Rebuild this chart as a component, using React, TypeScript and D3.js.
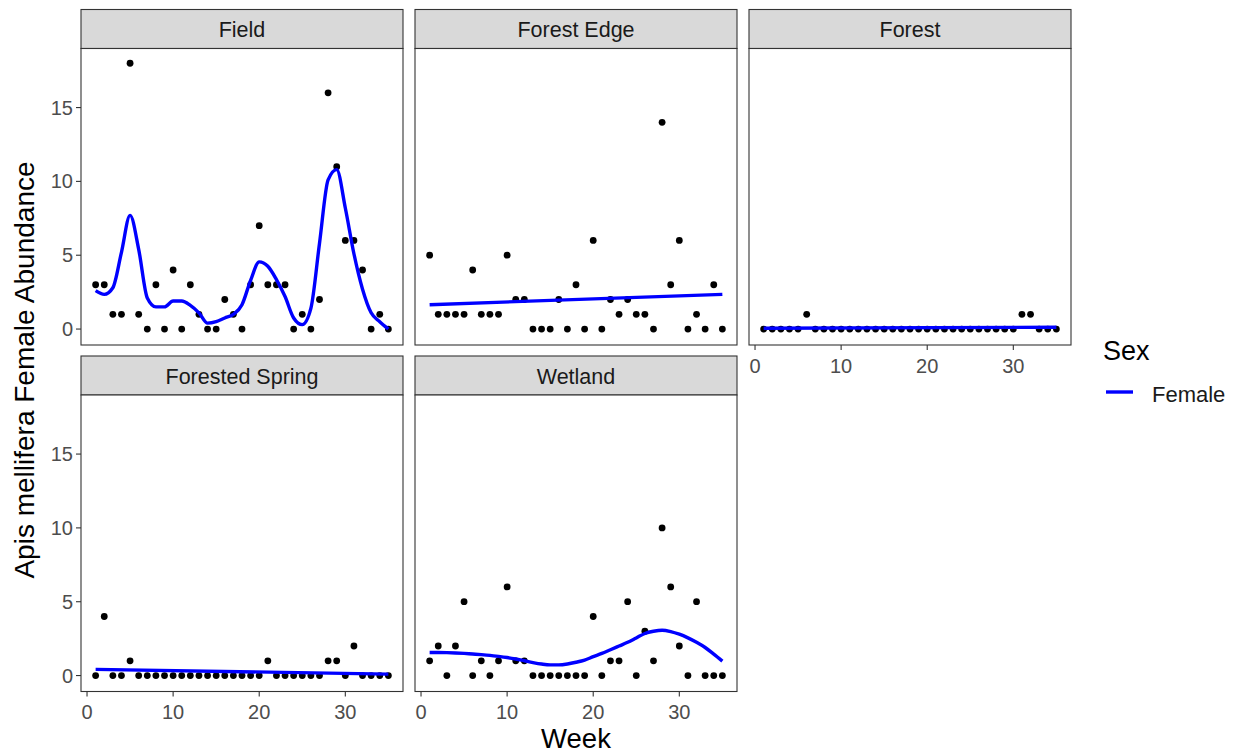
import React from "react";
import * as d3 from "d3";

// ---------- data ----------
const weeks = [1,2,3,4,5,6,7,8,9,10,11,12,13,14,15,16,17,18,19,20,21,22,23,24,25,26,27,28,29,30,31,32,33,34,35];

const fieldCounts = [3,3,1,1,18,1,0,3,0,4,0,3,1,0,0,2,1,0,3,7,3,3,3,0,1,0,2,16,11,6,6,4,0,1,0];
const forestEdgeCounts = [5,1,1,1,1,4,1,1,1,5,2,2,0,0,0,2,0,3,0,6,0,2,1,2,1,1,0,14,3,6,0,1,0,3,0];
const forestCounts = [0,0,0,0,0,1,0,0,0,0,0,0,0,0,0,0,0,0,0,0,0,0,0,0,0,0,0,0,0,0,1,1,0,0,0];
const forestedSpringCounts = [0,4,0,0,1,0,0,0,0,0,0,0,0,0,0,0,0,0,0,0,1,0,0,0,0,0,0,1,1,0,2,0,0,0,0];
const wetlandCounts = [1,2,0,2,5,0,1,0,1,6,1,1,0,0,0,0,0,0,0,4,0,1,1,5,0,3,1,10,6,2,0,5,0,0,0];

// fitted smooth curves
const fieldSmooth = [2.6,2.35,2.8,5.2,7.7,5.4,2.1,1.5,1.5,1.9,1.9,1.6,1.1,0.4,0.5,0.75,1.0,1.65,3.3,4.55,4.25,3.35,2.2,0.75,0.3,1.4,5.8,10.1,10.8,8.2,5.1,2.7,1.1,0.5,0.0];
const forestEdgeSmooth = [1.65, 2.35];
const forestSmooth = [0.05, 0.12];
const forestedSpringSmooth = [0.42, 0.1];
const wetlandSmooth = [1.56,1.56,1.55,1.53,1.5,1.46,1.42,1.37,1.3,1.22,1.12,1.0,0.88,0.78,0.72,0.72,0.78,0.9,1.05,1.28,1.5,1.75,2.0,2.25,2.55,2.85,3.0,3.07,2.98,2.8,2.55,2.25,1.9,1.45,0.98];
const endWeeks = [1, 35];

const siteNames = ["Field", "Forest Edge", "Forest", "Forested Spring", "Wetland"];
const siteCounts = [fieldCounts, forestEdgeCounts, forestCounts, forestedSpringCounts, wetlandCounts];
const siteSmooth = [fieldSmooth, forestEdgeSmooth, forestSmooth, forestedSpringSmooth, wetlandSmooth];
const siteSmoothWeeks = [weeks, endWeeks, endWeeks, endWeeks, weeks];

const xTicks = [0, 10, 20, 30];
const yTicks = [0, 5, 10, 15];
const yTitle = "Apis mellifera Female Abundance";
const xTitle = "Week";
const legendTitle = "Sex";
const legendLabels = ["Female"];

// ---------- layout ----------
const W = 1238, H = 754;
const colX = [81, 415, 749];
const panelW = 322;
const stripTop = [9.5, 356];
const stripH = 39;
const panelH = 296.5;
const FONT = "'Liberation Sans', Arial, sans-serif";
const BLUE = "#0000FF";

export default function App() {
  const panels = siteNames.map((name, i) => {
    const col = i % 3;
    const row = Math.floor(i / 3);
    const x0 = colX[col];
    const sTop = stripTop[row];
    const pTop = sTop + stripH;
    const pBot = pTop + panelH;
    const x = d3.scaleLinear().domain([-0.7, 36.7]).range([x0, x0 + panelW]);
    const y = d3.scaleLinear().domain([-1.08, 19.0]).range([pBot, pTop]);
    const sw = siteSmoothWeeks[i];
    const line = d3
      .line<number>()
      .x((_, k) => x(sw[k]))
      .y((v) => y(v))
      .curve(sw.length > 2 ? d3.curveMonotoneX : d3.curveLinear);
    const showX = row === 1 || col === 2;
    const showY = col === 0;
    return (
      <g key={name}>
        {/* strip */}
        <rect x={x0} y={sTop} width={panelW} height={stripH} fill="#D9D9D9" stroke="#333333" strokeWidth={1.1} />
        <text x={x0 + panelW / 2} y={sTop + stripH / 2 + 8} textAnchor="middle" fontFamily={FONT} fontSize={21.5} fill="#1A1A1A">
          {name}
        </text>
        {/* panel */}
        <rect x={x0} y={pTop} width={panelW} height={panelH} fill="#FFFFFF" stroke="none" />
        <g>
          {siteCounts[i].map((v, k) => (
            <circle key={k} cx={x(weeks[k])} cy={y(v)} r={3.4} fill="#000000" />
          ))}
        </g>
        <path d={line(siteSmooth[i]) || ""} fill="none" stroke={BLUE} strokeWidth={3.4} />
        <rect x={x0} y={pTop} width={panelW} height={panelH} fill="none" stroke="#333333" strokeWidth={1.1} />
        {showX &&
          xTicks.map((t) => (
            <g key={"x" + t}>
              <line x1={x(t)} x2={x(t)} y1={pBot} y2={pBot + 5} stroke="#333333" strokeWidth={1.1} />
              <text x={x(t)} y={pBot + 27.5} textAnchor="middle" fontFamily={FONT} fontSize={20} fill="#4D4D4D">
                {t}
              </text>
            </g>
          ))}
        {showY &&
          yTicks.map((t) => (
            <g key={"y" + t}>
              <line x1={x0 - 5} x2={x0} y1={y(t)} y2={y(t)} stroke="#333333" strokeWidth={1.1} />
              <text x={x0 - 8} y={y(t) + 7} textAnchor="end" fontFamily={FONT} fontSize={20} fill="#4D4D4D">
                {t}
              </text>
            </g>
          ))}
      </g>
    );
  });

  const yMid = (stripTop[0] + stripH + stripTop[1] + stripH + panelH) / 2;
  const xMid = (colX[0] + colX[2] + panelW) / 2;

  return (
    <svg width={W} height={H} style={{ position: "absolute", left: 0, top: 0, background: "#FFFFFF" }}>
      <rect x={0} y={0} width={W} height={H} fill="#FFFFFF" />
      {panels}
      <text
        transform={`translate(34, ${yMid}) rotate(-90)`}
        textAnchor="middle"
        fontFamily={FONT}
        fontSize={28}
        fill="#000000"
      >
        {yTitle}
      </text>
      <text x={xMid} y={748} textAnchor="middle" fontFamily={FONT} fontSize={27.5} fill="#000000">
        {xTitle}
      </text>
      {/* legend */}
      <text x={1103} y={360} fontFamily={FONT} fontSize={27} fill="#000000">
        {legendTitle}
      </text>
      {legendLabels.map((lab, i) => (
        <g key={lab}>
          <line x1={1106} x2={1133} y1={392 + i * 30} y2={392 + i * 30} stroke={BLUE} strokeWidth={3.4} />
          <text x={1152} y={401.5 + i * 30} fontFamily={FONT} fontSize={22} fill="#1A1A1A">
            {lab}
          </text>
        </g>
      ))}
    </svg>
  );
}
